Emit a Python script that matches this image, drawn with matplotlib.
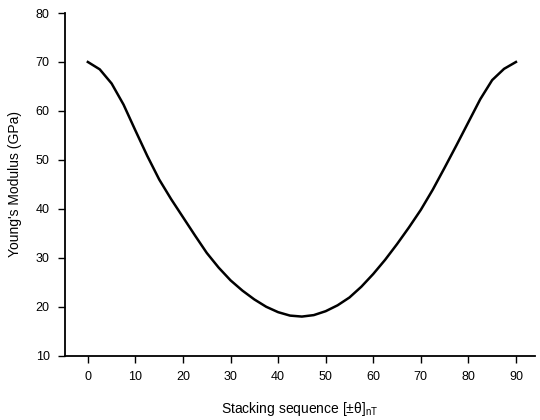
import matplotlib
matplotlib.use("Agg")
import matplotlib.pyplot as plt

plt.rcParams['font.family'] = ['Liberation Sans', 'DejaVu Sans']
plt.rcParams['mathtext.fontset'] = 'custom'
plt.rcParams['mathtext.rm'] = 'Liberation Sans'
plt.rcParams['mathtext.it'] = 'Liberation Sans:italic'

angle = [0, 2.5, 5, 7.5, 10, 12.5, 15, 17.5, 20, 22.5, 25, 27.5, 30, 32.5, 35, 37.5,
         40, 42.5, 45, 47.5, 50, 52.5, 55, 57.5, 60, 62.5, 65, 67.5, 70, 72.5, 75,
         77.5, 80, 82.5, 85, 87.5, 90]
modulus = [70.0, 68.5, 65.6, 61.3, 56.0, 50.8, 46.0, 42.0, 38.3, 34.6, 31.0, 28.0,
           25.4, 23.3, 21.5, 20.0, 18.9, 18.2, 18.0, 18.3, 19.1, 20.3, 21.9, 24.1,
           26.7, 29.6, 32.8, 36.2, 39.8, 43.9, 48.4, 53.0, 57.7, 62.4, 66.3, 68.6, 70.0]
xticks = [0, 10, 20, 30, 40, 50, 60, 70, 80, 90]
yticks = [10, 20, 30, 40, 50, 60, 70, 80]

fig = plt.figure(figsize=(5.4, 4.2), dpi=100)
ax = fig.add_axes([0.1204, 0.153, 0.8703, 0.816])
ax.plot(angle, modulus, color='black', linewidth=1.8, solid_joinstyle='round')
ax.set_xlim(-4.8, 94)
ax.set_ylim(10, 80)
ax.set_xticks(xticks)
ax.set_yticks(yticks)
for s in ['top', 'right']:
    ax.spines[s].set_visible(False)
for s in ['left', 'bottom']:
    ax.spines[s].set_linewidth(1.3)
ax.tick_params(axis='both', labelsize=9, length=5, width=1, direction='out', pad=6)
ax.set_xlabel("Stacking sequence [±θ]$_{\\mathrm{nT}}$", fontsize=10, labelpad=12)
ax.set_ylabel("Young's Modulus (GPa)", fontsize=10, labelpad=10)
fig.savefig("out.png", dpi=100)
